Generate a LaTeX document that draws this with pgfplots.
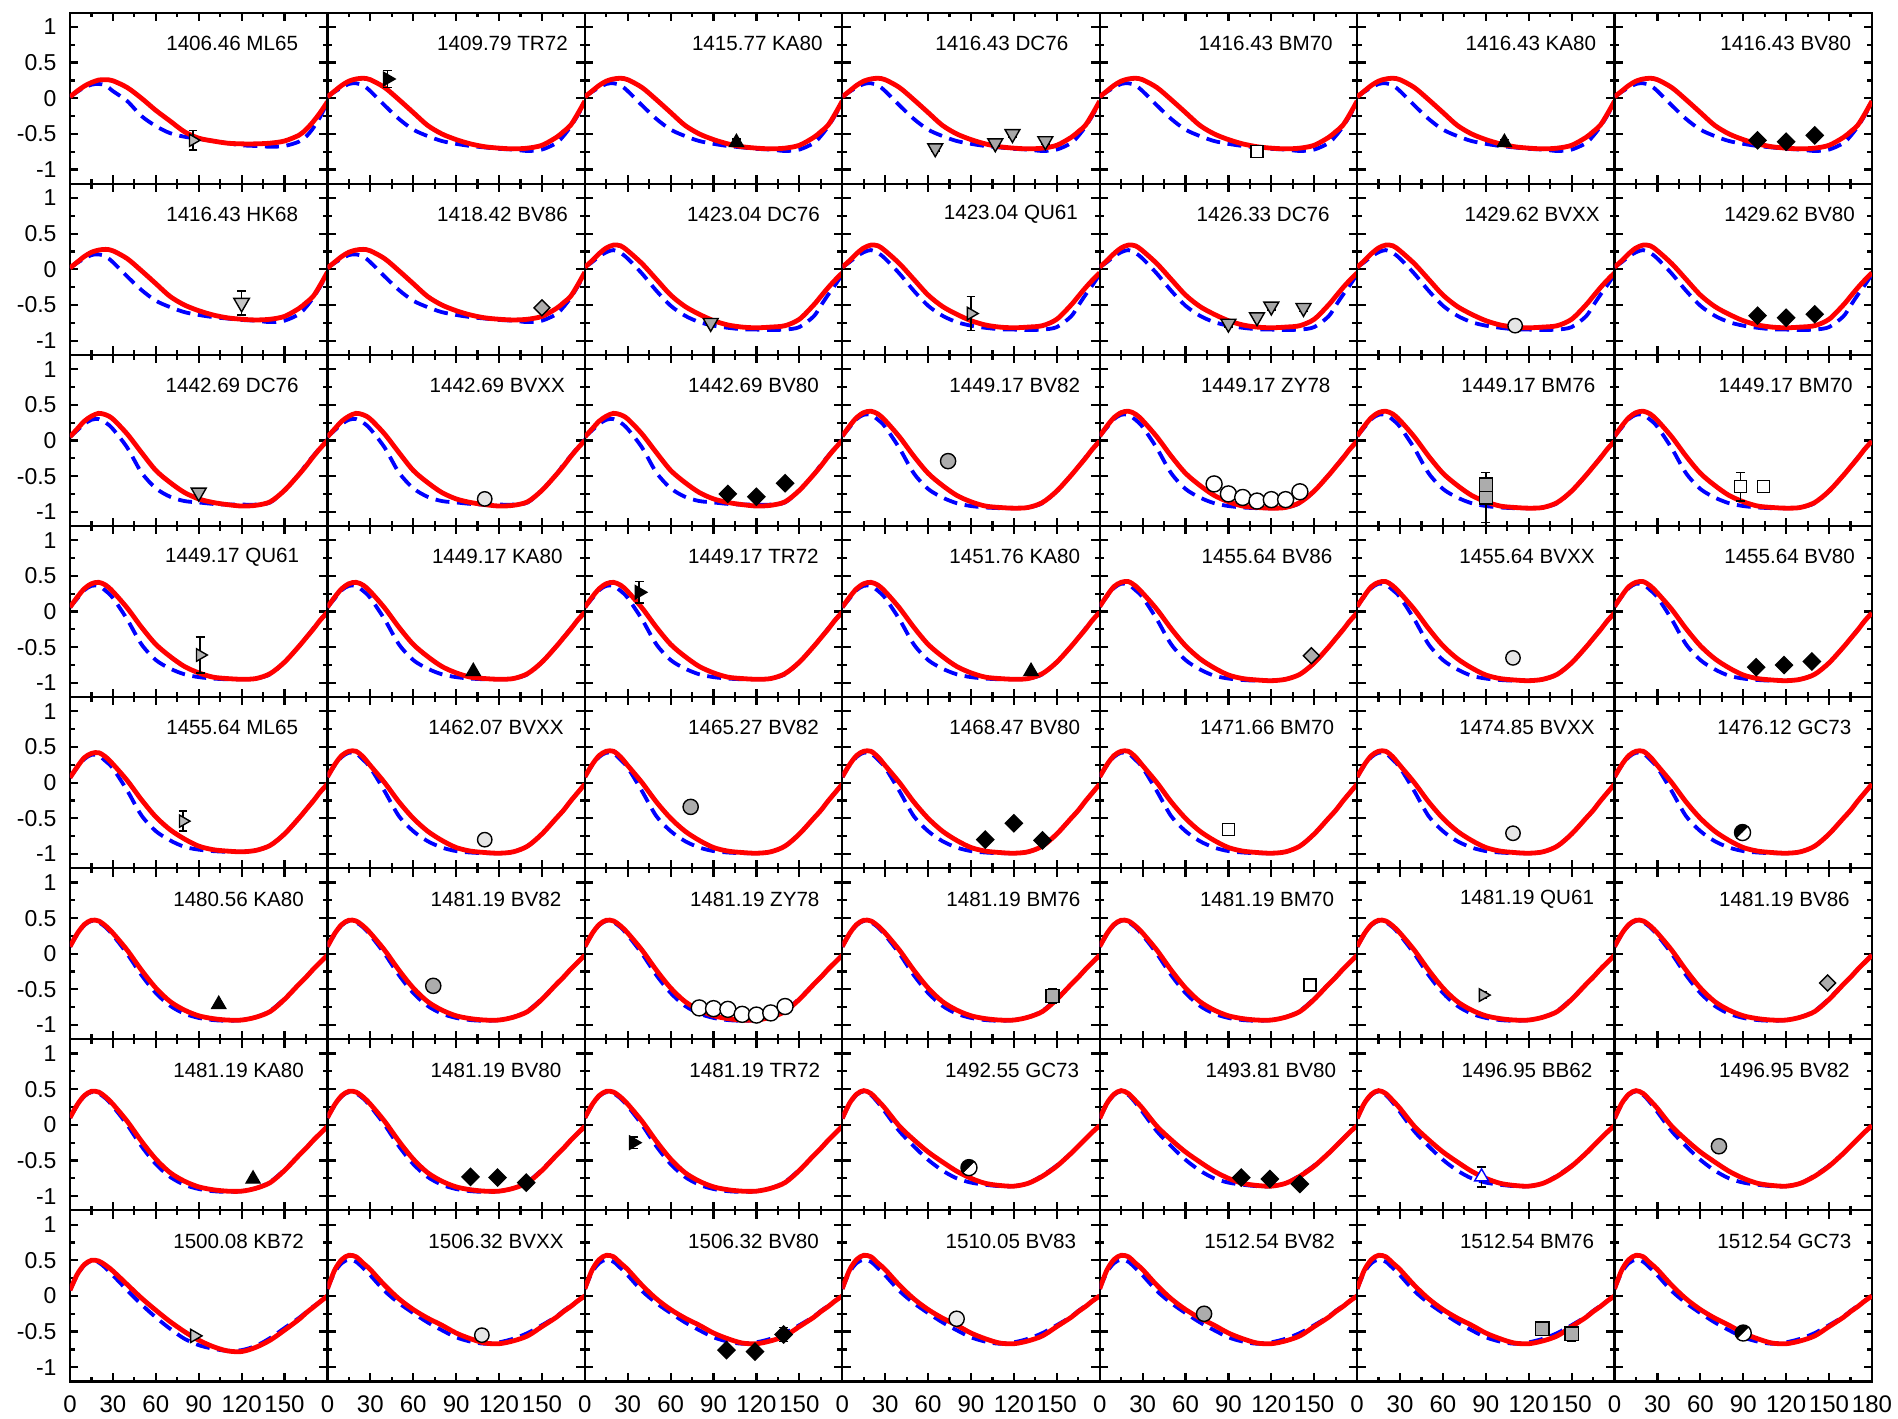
\documentclass[border=0pt]{standalone}
\usepackage{fontspec}
\setmainfont{Liberation Sans}
\usepackage{pgfplots}
\pgfplotsset{compat=1.18}
\usepackage{pgfplotstable}
\usetikzlibrary{plotmarks}

% curve tables: x, red (solid), blue (dashed)
\pgfplotstableread{
x r b
0 0.02 0.02
5 0.10 0.09
10 0.17 0.15
15 0.22 0.19
20 0.255 0.20
25 0.26 0.18
30 0.245 0.10
40 0.15 -0.04
50 0.0 -0.25
60 -0.17 -0.39
70 -0.32 -0.49
80 -0.47 -0.54
90 -0.56 -0.57
100 -0.60 -0.60
110 -0.63 -0.63
120 -0.64 -0.66
130 -0.64 -0.67
140 -0.63 -0.68
150 -0.60 -0.67
160 -0.52 -0.61
165 -0.44 -0.54
170 -0.33 -0.42
175 -0.20 -0.26
180 -0.05 -0.06
}\EA
\pgfplotstableread{
x r b
0 0.02 0.02
5 0.10 0.09
10 0.18 0.15
15 0.24 0.20
20 0.27 0.21
25 0.28 0.18
30 0.26 0.10
40 0.15 -0.10
50 -0.02 -0.29
60 -0.20 -0.44
70 -0.38 -0.53
80 -0.50 -0.60
90 -0.58 -0.64
100 -0.64 -0.67
110 -0.68 -0.69
120 -0.70 -0.71
130 -0.71 -0.72
140 -0.70 -0.74
150 -0.66 -0.72
160 -0.55 -0.63
165 -0.47 -0.53
170 -0.38 -0.40
175 -0.22 -0.24
180 -0.04 -0.06
}\EB
\pgfplotstableread{
x r b
0 0.03 0.03
5 0.12 0.10
10 0.22 0.18
15 0.30 0.24
20 0.34 0.27
25 0.33 0.23
30 0.26 0.15
40 0.08 -0.06
50 -0.14 -0.30
60 -0.36 -0.51
70 -0.52 -0.65
80 -0.63 -0.74
90 -0.72 -0.79
100 -0.78 -0.82
110 -0.81 -0.84
120 -0.82 -0.845
130 -0.81 -0.85
140 -0.79 -0.845
150 -0.70 -0.81
160 -0.50 -0.66
165 -0.38 -0.51
170 -0.26 -0.36
175 -0.15 -0.22
180 -0.05 -0.07
}\EC
\pgfplotstableread{
x r b
0 0.05 0.05
5 0.16 0.14
10 0.27 0.23
15 0.34 0.29
20 0.38 0.30
25 0.36 0.25
30 0.30 0.16
40 0.09 -0.10
50 -0.17 -0.45
60 -0.42 -0.67
70 -0.59 -0.79
80 -0.73 -0.85
90 -0.82 -0.87
100 -0.87 -0.89
110 -0.90 -0.90
120 -0.92 -0.90
130 -0.91 -0.90
140 -0.86 -0.87
150 -0.70 -0.70
160 -0.48 -0.48
165 -0.36 -0.34
170 -0.23 -0.22
175 -0.11 -0.10
180 0.0 0.01
}\ED
\pgfplotstableread{
x r b
0 0.06 0.06
5 0.20 0.18
10 0.32 0.30
15 0.39 0.36
20 0.41 0.36
25 0.37 0.29
30 0.28 0.19
40 0.05 -0.11
50 -0.22 -0.46
60 -0.46 -0.68
70 -0.63 -0.80
80 -0.77 -0.88
90 -0.86 -0.92
100 -0.92 -0.94
110 -0.94 -0.95
120 -0.95 -0.95
130 -0.94 -0.94
140 -0.87 -0.88
150 -0.71 -0.71
160 -0.49 -0.49
165 -0.37 -0.37
170 -0.25 -0.24
175 -0.12 -0.12
180 -0.01 -0.01
}\EE
\pgfplotstableread{
x r b
0 0.07 0.07
5 0.22 0.21
10 0.35 0.33
15 0.41 0.39
20 0.42 0.38
25 0.36 0.30
30 0.26 0.20
40 0.03 -0.11
50 -0.24 -0.46
60 -0.48 -0.68
70 -0.66 -0.81
80 -0.79 -0.90
90 -0.89 -0.94
100 -0.94 -0.96
110 -0.96 -0.97
120 -0.97 -0.97
130 -0.95 -0.95
140 -0.88 -0.88
150 -0.72 -0.72
160 -0.50 -0.50
165 -0.38 -0.38
170 -0.26 -0.25
175 -0.13 -0.13
180 -0.02 -0.02
}\EF
\pgfplotstableread{
x r b
0 0.08 0.08
5 0.25 0.24
10 0.38 0.36
15 0.44 0.42
20 0.44 0.41
25 0.36 0.32
30 0.24 0.21
40 0.0 -0.12
50 -0.27 -0.47
60 -0.50 -0.68
70 -0.68 -0.82
80 -0.81 -0.91
90 -0.91 -0.96
100 -0.96 -0.98
110 -0.98 -0.99
120 -0.99 -0.99
130 -0.97 -0.97
140 -0.89 -0.89
150 -0.72 -0.72
160 -0.50 -0.50
165 -0.39 -0.39
170 -0.26 -0.26
175 -0.14 -0.14
180 -0.02 -0.02
}\EG
\pgfplotstableread{
x r b
0 0.10 0.10
5 0.28 0.27
10 0.41 0.40
15 0.47 0.46
20 0.46 0.44
25 0.39 0.37
30 0.29 0.26
40 0.05 0.0
50 -0.23 -0.30
60 -0.48 -0.55
70 -0.67 -0.73
80 -0.79 -0.84
90 -0.87 -0.90
100 -0.91 -0.93
110 -0.93 -0.94
120 -0.93 -0.93
130 -0.89 -0.89
140 -0.81 -0.80
150 -0.64 -0.63
160 -0.43 -0.43
165 -0.33 -0.33
170 -0.22 -0.22
175 -0.12 -0.12
180 -0.02 -0.02
}\EH
\pgfplotstableread{
x r b
0 0.09 0.09
5 0.30 0.29
10 0.43 0.42
15 0.48 0.47
20 0.44 0.42
25 0.34 0.31
30 0.23 0.18
40 -0.02 -0.09
50 -0.21 -0.30
60 -0.38 -0.49
70 -0.52 -0.64
80 -0.65 -0.75
90 -0.75 -0.81
100 -0.82 -0.84
110 -0.85 -0.86
120 -0.86 -0.86
130 -0.82 -0.82
140 -0.72 -0.71
150 -0.58 -0.57
160 -0.40 -0.40
165 -0.30 -0.30
170 -0.20 -0.20
175 -0.10 -0.10
180 -0.01 -0.01
}\EI
\pgfplotstableread{
x r b
0 0.08 0.08
5 0.30 0.29
10 0.44 0.43
15 0.50 0.49
20 0.49 0.47
25 0.43 0.39
30 0.35 0.29
40 0.16 0.08
50 -0.03 -0.12
60 -0.20 -0.30
70 -0.36 -0.46
80 -0.50 -0.60
90 -0.62 -0.69
100 -0.71 -0.74
110 -0.77 -0.77
120 -0.78 -0.76
130 -0.72 -0.70
140 -0.62 -0.59
150 -0.48 -0.45
160 -0.33 -0.31
165 -0.24 -0.23
170 -0.16 -0.15
175 -0.08 -0.08
180 0.0 0.0
}\EJ
\pgfplotstableread{
x r b
0 0.10 0.10
5 0.36 0.33
10 0.51 0.46
15 0.57 0.51
20 0.55 0.48
25 0.46 0.39
30 0.37 0.29
40 0.15 0.07
50 -0.04 -0.10
60 -0.19 -0.24
70 -0.31 -0.37
80 -0.41 -0.48
90 -0.52 -0.58
100 -0.60 -0.64
110 -0.66 -0.67
120 -0.67 -0.65
130 -0.63 -0.60
140 -0.56 -0.52
150 -0.43 -0.41
160 -0.30 -0.29
165 -0.22 -0.21
170 -0.15 -0.14
175 -0.07 -0.07
180 0.0 0.0
}\EK

\pgfplotsset{
 panel/.style={scale only axis, width=128.71pt, height=85.55pt, anchor=south west,
  xmin=0, xmax=180, ymin=-1.2, ymax=1.2,
  xtick={0,30,60,90,120,150,180}, ytick={-1,-0.5,0,0.5,1},
  minor x tick num=1, minor y tick num=1,
  tick align=inside, major tick length=4.2pt, minor tick length=2.4pt,
  axis line style={line width=1.1pt},
  every tick/.style={black, line width=1.1pt},
  xticklabels={}, yticklabels={},
  yticklabel style={font=\fontsize{11.5}{13}\selectfont, xshift=-3.2pt},
  xticklabel style={font=\fontsize{12}{14}\selectfont, yshift=-3.6pt},
 },
 redc/.style={red, line width=2.4pt, smooth, no markers},
 bluec/.style={blue, line width=1.9pt, dash pattern=on 7pt off 3.8pt, smooth, no markers},
 pt/.style={only marks, line width=0.7pt},
 eb/.style={error bars/.cd, y dir=both, y explicit,
   error bar style={line width=0.8pt, black, solid},
   error mark options={black, rotate=90, mark size=2.2pt, line width=0.8pt}},
 ml65/.style={pt, mark=triangle*, mark size=3.5pt, mark options={rotate=-90, draw=black, fill=gray!55}},
 tr72/.style={pt, mark=triangle*, mark size=3.8pt, mark options={rotate=-90, draw=black, fill=black}},
 qu61/.style={pt, mark=triangle*, mark size=3.6pt, mark options={rotate=-90, draw=black, fill=gray!60}},
 kb72/.style={pt, mark=triangle*, mark size=3.8pt, mark options={rotate=-90, draw=black, fill=gray!45}},
 ka80/.style={pt, mark=triangle*, mark size=4pt, mark options={draw=black, fill=black}},
 bb62/.style={pt, mark=triangle*, mark size=4pt, mark options={draw=blue, fill=white}},
 dc76/.style={pt, mark=triangle*, mark size=4.3pt, mark options={rotate=180, draw=black, fill=gray!70}},
 hk68/.style={pt, mark=triangle*, mark size=4.5pt, mark options={rotate=180, draw=black, fill=gray!45}},
 bm70/.style={pt, mark=square*, mark size=3pt, mark options={draw=black, fill=white}},
 bm76/.style={pt, mark=square*, mark size=3.3pt, mark options={draw=black, fill=gray!65}},
 bv80/.style={pt, mark=square*, mark size=3pt, mark options={rotate=45, draw=black, fill=black}},
 bv86/.style={pt, mark=square*, mark size=2.8pt, mark options={rotate=45, draw=black, fill=gray!65}},
 bvxx/.style={pt, mark=*, mark size=3.6pt, mark options={draw=black, fill=gray!20}},
 bv83/.style={pt, mark=*, mark size=3.8pt, mark options={draw=black, fill=gray!15}},
 bv82/.style={pt, mark=*, mark size=3.8pt, mark options={draw=black, fill=gray!65}},
 zy78/.style={pt, mark=*, mark size=4pt, mark options={draw=black, fill=white}},
 gc73/.style={pt, mark=halfcircle*, mark size=4pt, mark options={draw=black, fill=black, mark color=white, rotate=45}},
}

% #1 col, #2 row, #3 label, #4 table, #5 axis options, #6 plots, #7 label x (rel)
\newcommand{\panel}[7]{%
 \pgfmathsetmacro\px{35+#1*128.71}%
 \pgfmathsetmacro\py{18.25+(7-#2)*85.55}%
 \begin{axis}[panel, at={(\px pt,\py pt)}, #5]
 \addplot[bluec] table[x=x,y=b] {#4};
 \addplot[redc] table[x=x,y=r] {#4};
 #6
 \node[font=\fontsize{10.3}{12}\selectfont] at (rel axis cs:#7,0.82) {#3};
 \end{axis}}

\def\YL{yticklabels={-1,-0.5,0,0.5,1}}
\def\XL{xticklabels={0,30,60,90,120,150,{}}}

\begin{document}
\begin{tikzpicture}
\path[use as bounding box] (0,0) rectangle (949pt,709pt);
% row 0
\panel{0}{0}{1406.46 ML65}{\EA}{\YL}{\addplot[ml65,eb] coordinates {(86,-0.59) +- (0,0.14)};}{0.63}
\panel{1}{0}{1409.79 TR72}{\EB}{}{\addplot[tr72,eb] coordinates {(42,0.27) +- (0,0.12)};}{0.68}
\panel{2}{0}{1415.77 KA80}{\EB}{}{\addplot[ka80,eb] coordinates {(106,-0.62) +- (0,0.05)};}{0.67}
\panel{3}{0}{1416.43 DC76}{\EB}{}{\addplot[dc76,eb] coordinates {(65,-0.70) +- (0,0.04) (107,-0.63) +- (0,0.04) (119,-0.50) +- (0,0.04) (142,-0.60) +- (0,0.04)};}{0.62}
\panel{4}{0}{1416.43 BM70}{\EB}{}{\addplot[bm70,eb] coordinates {(110,-0.75) +- (0,0.08)};}{0.645}
\panel{5}{0}{1416.43 KA80}{\EB}{}{\addplot[ka80,eb] coordinates {(103,-0.62) +- (0,0.04)};}{0.675}
\panel{6}{0}{1416.43 BV80}{\EB}{}{\addplot[bv80] coordinates {(100,-0.59) (120,-0.61) (140,-0.52)};}{0.665}
% row 1
\panel{0}{1}{1416.43 HK68}{\EB}{\YL}{\addplot[hk68,eb] coordinates {(120,-0.47) +- (0,0.17)};}{0.63}
\panel{1}{1}{1418.42 BV86}{\EB}{}{\addplot[bv86] coordinates {(150,-0.54)};}{0.68}
\panel{2}{1}{1423.04 DC76}{\EC}{}{\addplot[dc76,eb] coordinates {(88,-0.75) +- (0,0.04)};}{0.655}
\panel{3}{1}{1423.04 QU61}{\EC}{}{\addplot[qu61,eb] coordinates {(90,-0.62) +- (0,0.24)};}{0.655}
\panel{4}{1}{1426.33 DC76}{\EC}{}{\addplot[dc76,eb] coordinates {(90,-0.76) +- (0,0.05) (110,-0.67) +- (0,0.05) (120,-0.52) +- (0,0.05) (142.5,-0.54) +- (0,0.05)};}{0.635}
\panel{5}{1}{1429.62 BVXX}{\EC}{}{\addplot[bvxx] coordinates {(110.5,-0.79)};}{0.68}
\panel{6}{1}{1429.62 BV80}{\EC}{}{\addplot[bv80] coordinates {(100,-0.65) (120,-0.68) (140,-0.63)};}{0.68}
% row 2
\panel{0}{2}{1442.69 DC76}{\ED}{\YL}{\addplot[dc76] coordinates {(90,-0.73)};}{0.63}
\panel{1}{2}{1442.69 BVXX}{\ED}{}{\addplot[bvxx] coordinates {(110,-0.82)};}{0.66}
\panel{2}{2}{1442.69 BV80}{\ED}{}{\addplot[bv80] coordinates {(100,-0.75) (120,-0.79) (140,-0.60)};}{0.655}
\panel{3}{2}{1449.17 BV82}{\EE}{}{\addplot[bv82,eb] coordinates {(74,-0.29) +- (0,0.08)};}{0.67}
\panel{4}{2}{1449.17 ZY78}{\EE}{}{\addplot[zy78] coordinates {(80,-0.61) (90,-0.75) (100,-0.80) (110,-0.85) (120,-0.83) (130,-0.83) (140,-0.72)};}{0.645}
\panel{5}{2}{1449.17 BM76}{\EE}{}{\addplot[bm76,eb] coordinates {(90,-0.80) +- (0,0.35) (90,-0.62) +- (0,0.06)};}{0.665}
\panel{6}{2}{1449.17 BM70}{\EE}{}{\addplot[bm70,eb] coordinates {(88,-0.65) +- (0,0.20) (104,-0.65) +- (0,0.07)};}{0.665}
% row 3
\panel{0}{3}{1449.17 QU61}{\EE}{\YL}{\addplot[qu61,eb] coordinates {(91,-0.61) +- (0,0.25)};}{0.63}
\panel{1}{3}{1449.17 KA80}{\EE}{}{\addplot[ka80] coordinates {(102,-0.84)};}{0.66}
\panel{2}{3}{1449.17 TR72}{\EE}{}{\addplot[tr72,eb] coordinates {(38,0.27) +- (0,0.15)};}{0.655}
\panel{3}{3}{1451.76 KA80}{\EE}{}{\addplot[ka80] coordinates {(132,-0.84)};}{0.67}
\panel{4}{3}{1455.64 BV86}{\EF}{}{\addplot[bv86] coordinates {(148,-0.62)};}{0.65}
\panel{5}{3}{1455.64 BVXX}{\EF}{}{\addplot[bvxx] coordinates {(109,-0.65)};}{0.66}
\panel{6}{3}{1455.64 BV80}{\EF}{}{\addplot[bv80] coordinates {(99,-0.78) (118.5,-0.75) (138,-0.70)};}{0.68}
% row 4
\panel{0}{4}{1455.64 ML65}{\EF}{\YL}{\addplot[ml65,eb] coordinates {(79,-0.54) +- (0,0.14)};}{0.63}
\panel{1}{4}{1462.07 BVXX}{\EG}{}{\addplot[bvxx] coordinates {(110,-0.80)};}{0.655}
\panel{2}{4}{1465.27 BV82}{\EG}{}{\addplot[bv82,eb] coordinates {(74,-0.34) +- (0,0.06)};}{0.655}
\panel{3}{4}{1468.47 BV80}{\EG}{}{\addplot[bv80] coordinates {(100,-0.80) (120,-0.57) (140,-0.81)};}{0.67}
\panel{4}{4}{1471.66 BM70}{\EG}{}{\addplot[bm70] coordinates {(90,-0.66)};}{0.65}
\panel{5}{4}{1474.85 BVXX}{\EG}{}{\addplot[bvxx] coordinates {(109,-0.71)};}{0.66}
\panel{6}{4}{1476.12 GC73}{\EG}{}{\addplot[gc73,eb] coordinates {(89.5,-0.70) +- (0,0.07)};}{0.66}
% row 5
\panel{0}{5}{1480.56 KA80}{\EH}{\YL}{\addplot[ka80] coordinates {(104,-0.71)};}{0.655}
\panel{1}{5}{1481.19 BV82}{\EH}{}{\addplot[bv82] coordinates {(74,-0.45)};}{0.655}
\panel{2}{5}{1481.19 ZY78}{\EH}{}{\addplot[zy78] coordinates {(80,-0.76) (90,-0.77) (100,-0.78) (110,-0.85) (120,-0.86) (130,-0.83) (140,-0.74)};}{0.66}
\panel{3}{5}{1481.19 BM76}{\EH}{}{\addplot[bm76,eb] coordinates {(147,-0.59) +- (0,0.10)};}{0.665}
\panel{4}{5}{1481.19 BM70}{\EH}{}{\addplot[bm70,eb] coordinates {(147,-0.44) +- (0,0.08)};}{0.65}
\panel{5}{5}{1481.19 QU61}{\EH}{}{\addplot[qu61,eb] coordinates {(88,-0.58) +- (0,0.04)};}{0.66}
\panel{6}{5}{1481.19 BV86}{\EH}{}{\addplot[bv86] coordinates {(149,-0.41)};}{0.66}
% row 6
\panel{0}{6}{1481.19 KA80}{\EH}{\YL}{\addplot[ka80] coordinates {(128,-0.76)};}{0.655}
\panel{1}{6}{1481.19 BV80}{\EH}{}{\addplot[bv80] coordinates {(100,-0.73) (119,-0.74) (139,-0.81)};}{0.655}
\panel{2}{6}{1481.19 TR72}{\EH}{}{\addplot[tr72,eb] coordinates {(34,-0.25) +- (0,0.08)};}{0.66}
\panel{3}{6}{1492.55 GC73}{\EI}{}{\addplot[gc73,eb] coordinates {(88.6,-0.60) +- (0,0.08)};}{0.66}
\panel{4}{6}{1493.81 BV80}{\EI}{}{\addplot[bv80] coordinates {(99,-0.74) (119,-0.76) (140,-0.83)};}{0.665}
\panel{5}{6}{1496.95 BB62}{\EI}{}{\addplot[bb62,eb] coordinates {(87,-0.73) +- (0,0.14)};}{0.66}
\panel{6}{6}{1496.95 BV82}{\EI}{}{\addplot[bv82] coordinates {(73,-0.30)};}{0.66}
% row 7
\panel{0}{7}{1500.08 KB72}{\EJ}{\YL,\XL}{\addplot[kb72,eb] coordinates {(87,-0.56) +- (0,0.03)};}{0.655}
\panel{1}{7}{1506.32 BVXX}{\EK}{\XL}{\addplot[bvxx] coordinates {(108,-0.55)};}{0.655}
\panel{2}{7}{1506.32 BV80}{\EK}{\XL}{\addplot[bv80,eb] coordinates {(99,-0.76) +- (0,0.03) (119,-0.78) +- (0,0.03) (139,-0.54) +- (0,0.10)};}{0.655}
\panel{3}{7}{1510.05 BV83}{\EK}{\XL}{\addplot[bv83,eb] coordinates {(80,-0.32) +- (0,0.05)};}{0.655}
\panel{4}{7}{1512.54 BV82}{\EK}{\XL}{\addplot[bv82] coordinates {(73,-0.25)};}{0.66}
\panel{5}{7}{1512.54 BM76}{\EK}{\XL}{\addplot[bm76,eb] coordinates {(129.5,-0.46) +- (0,0.04) (150,-0.53) +- (0,0.10)};}{0.66}
\panel{6}{7}{1512.54 GC73}{\EK}{xticklabels={0,30,60,90,120,150,180}}{\addplot[gc73,eb] coordinates {(90,-0.52) +- (0,0.07)};}{0.66}
\end{tikzpicture}
\end{document}
